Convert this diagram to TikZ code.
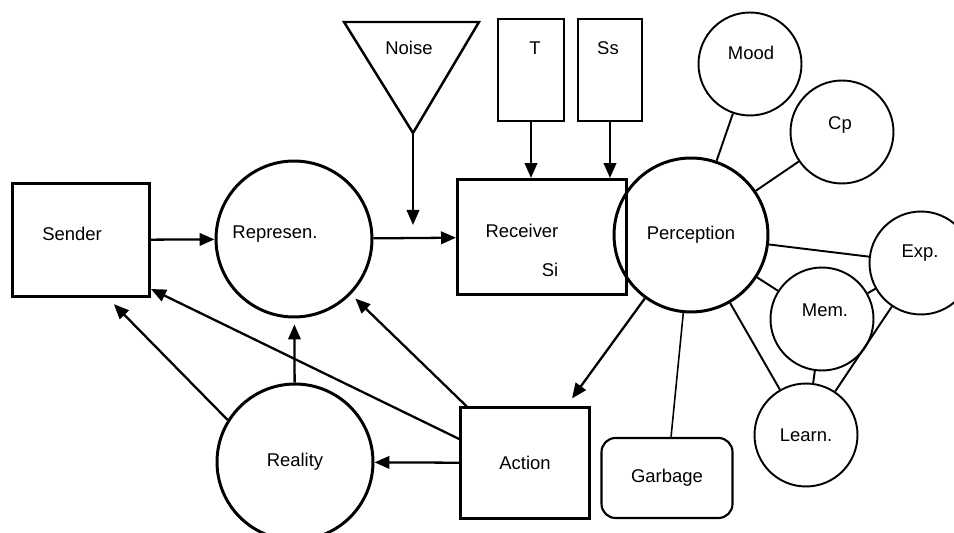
\documentclass[tikz,border=0pt]{standalone}
\usepackage{fontspec}
\setmainfont{Liberation Sans}
\usepackage{tikz}
\usetikzlibrary{arrows.meta}

\begin{document}
\begin{tikzpicture}[
  x=0.02cm, y=-0.02cm,
  font=\fontsize{10.5}{12}\selectfont,
  box/.style={draw, line width=1.2pt, inner sep=0pt},
  bigbox/.style={box, line width=1.7pt},
  bubble/.style={draw, circle, line width=1.1pt, minimum size=2.06cm, inner sep=0pt},
  bigbubble/.style={bubble, line width=1.7pt, minimum size=3.12cm},
  txt/.style={inner sep=0pt},
  arr/.style={-{Triangle[length=0.3cm,width=0.25cm]}, line width=1.3pt},
  link/.style={line width=1.1pt}
]
\useasboundingbox (0,0) rectangle (954,533);

\node[bigbox, minimum width=2.74cm, minimum height=2.28cm] (sender) at (81,240) {};
\node[txt] (sendertxt) at (72,234) {Sender};
\node[bigbubble] (represen) at (294,239) {};
\node[txt] (representxt) at (275,234) {Represen.};
\node[bigbox, minimum width=3.38cm, minimum height=2.30cm] (receiver) at (542,237) {};
\node[txt] (receivertxt) at (522,231) {Receiver};
\node[txt] (si) at (550,270) {Si};
\node[box, minimum width=1.32cm, minimum height=2.04cm] (t) at (531,70) {};
\node[txt] (ttxt) at (535,48) {T};
\node[box, minimum width=1.28cm, minimum height=2.04cm] (ss) at (610,70) {};
\node[txt] (sstxt) at (608,48) {Ss};
\coordinate (noise) at (413,133);
\draw[line width=1.4pt] (noise) -- (344,22) -- (479,22) -- cycle;
\node[txt] (noisetxt) at (409,48) {Noise};
\coordinate (noiseend) at (413,225);

\node[bigbubble, minimum size=3.08cm] (perception) at (691,235) {Perception};
\node[bubble] (mood) at (750,64) {};
\node[txt] (moodtxt) at (751,53) {Mood};
\node[bubble] (cp) at (842,132) {};
\node[txt] (cptxt) at (840,125) {Cp};
\node[bubble] (exp) at (921,263) {};
\node[txt] (exptxt) at (920,253) {Exp.};
\node[bubble] (mem) at (822,319) {};
\node[txt] (memtxt) at (825,310) {Mem.};
\node[bubble] (learn) at (806,435) {Learn.};

\node[bigbubble] (reality) at (295,462) {Reality};
\node[box, minimum width=2.58cm, minimum height=2.22cm] (action) at (525,463) {Action};
\node[box, rounded corners=0.28cm, minimum width=2.62cm, minimum height=1.6cm] (garbage) at (667,478) {Garbage};

\draw[arr] (sender) -- (represen);
\draw[arr] (represen) -- (receiver);
\draw[arr] (noise) -- (noiseend);
\draw[arr] (t) -- (t |- receiver.north);
\draw[arr] (ss) -- (ss |- receiver.north);
\draw[arr, shorten >=0.2cm] (perception) -- (action);
\draw[arr, shorten >=0.12cm] (action) -- (represen);
\draw[arr] (action.160) -- (sender.-35);
\draw[arr] (action) -- (reality);
\draw[arr, shorten >=0.12cm] (reality) -- (represen);
\draw[arr, shorten >=0.16cm] (reality.148) -- (sender.-65);

\draw[link] (perception) -- (mood);
\draw[link] (perception) -- (cp);
\draw[link] (perception) -- (exp);
\draw[link] (perception) -- (mem);
\draw[link] (perception) -- (learn);
\draw[link, line width=0.9pt] (perception) -- (garbage);
\draw[link] (mem) -- (exp);
\draw[link] (mem) -- (learn);
\draw[link] (exp) -- (learn);
\end{tikzpicture}
\end{document}
